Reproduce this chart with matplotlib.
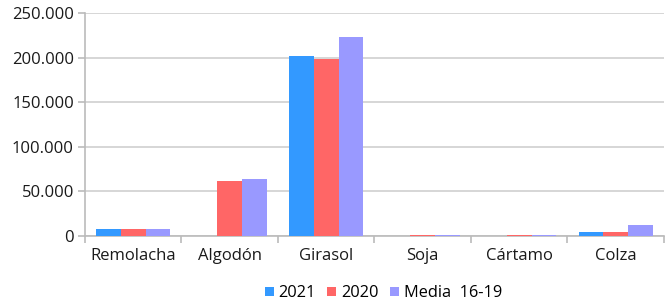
import numpy as np
import matplotlib.pyplot as plt
from matplotlib.ticker import FuncFormatter, FixedLocator

plt.rcParams['font.family'] = ['Open Sans', 'DejaVu Sans']

cultivos = ['Remolacha', 'Algodón', 'Girasol', 'Soja', 'Cártamo', 'Colza']
v2021 = [7800, 0, 201500, 0, 0, 4500]
v2020 = [7800, 61700, 199000, 1200, 1000, 4500]
media = [7500, 64000, 223500, 800, 700, 12500]

series = [('2021', v2021, '#3399ff'), ('2020', v2020, '#ff6666'), ('Media  16-19', media, '#9999ff')]

fig = plt.figure(figsize=(6.67, 3.04), dpi=100)
ax = fig.add_axes([0.1274, 0.2237, 0.868, 0.7333])

x = np.arange(len(cultivos))
w = 0.256
for i, (lab, vals, col) in enumerate(series):
    ax.bar(x + (i - 1) * w, vals, w, color=col, label=lab, zorder=3)

ax.set_xlim(-0.5, len(cultivos) - 0.5)
ax.set_ylim(0, 250000)
ax.set_yticks(np.arange(0, 250001, 50000))
ax.yaxis.set_major_formatter(FuncFormatter(lambda v, p: f'{int(v):,}'.replace(',', '.')))
ax.set_xticks(x)
ax.set_xticklabels(cultivos)
ax.xaxis.set_minor_locator(FixedLocator(np.arange(-0.5, len(cultivos), 1)))
ax.tick_params(axis='x', which='major', length=0, pad=9, labelsize=12, colors='#1a1a1a')
ax.tick_params(axis='x', which='minor', length=5, color='#bbbbbb', width=1.2)
ax.tick_params(axis='y', length=5, color='#bbbbbb', width=1.2, labelsize=12, colors='#1a1a1a', pad=3)
ax.grid(axis='y', color='#d0d0d0', lw=1.2, zorder=0)
for s in ['top', 'right']:
    ax.spines[s].set_visible(False)
for s in ['left', 'bottom']:
    ax.spines[s].set_color('#bbbbbb')
    ax.spines[s].set_linewidth(1.2)

fig.legend(loc='center', bbox_to_anchor=(0.575, 0.035), ncol=3, frameon=False,
           handlelength=0.55, handleheight=0.55, handletextpad=0.3, columnspacing=0.7,
           fontsize=11.8)

fig.savefig('out.png', dpi=100)
